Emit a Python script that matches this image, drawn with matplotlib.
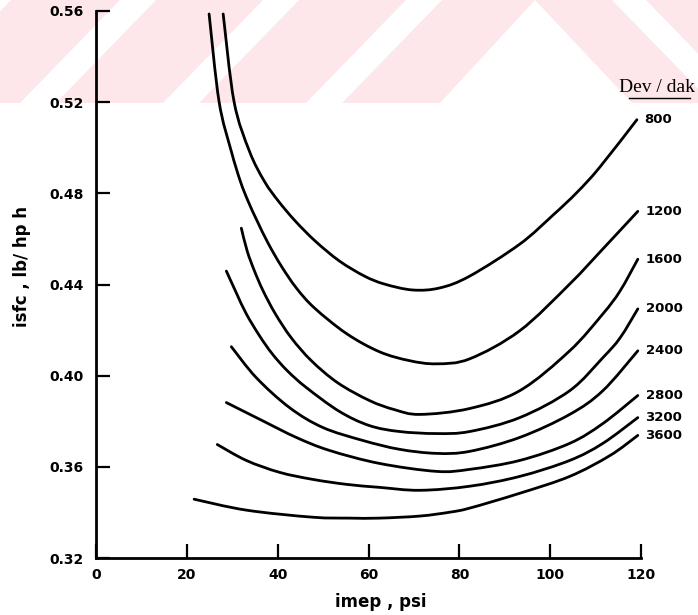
import matplotlib
matplotlib.use('Agg')
import matplotlib.pyplot as plt
from matplotlib.patches import Polygon, Rectangle, PathPatch
from matplotlib.path import Path
from matplotlib.lines import Line2D

# ---------------- data ----------------
speed_labels = ['800', '1200', '1600', '2000', '2400', '2800', '3200', '3600']

imep_800 = [28.0, 30.4, 33.8, 37.1, 40.2, 43.9, 48.3, 53.6, 59.1, 63.5, 69.7, 75.7, 82.3, 93.3, 100.6, 105.9, 110.9, 119.1]
isfc_800 = [0.5587, 0.5202, 0.4984, 0.4852, 0.4765, 0.4678, 0.4590, 0.4503, 0.4437, 0.4402, 0.4376, 0.4385, 0.4437, 0.4577, 0.4704, 0.4804, 0.4914, 0.5123]

imep_1200 = [24.9, 27.1, 29.8, 31.8, 33.5, 35.5, 37.9, 40.8, 44.1, 48.1, 55.2, 62.4, 69.0, 75.0, 82.3, 93.3, 104.3, 111.6, 119.3]
isfc_1200 = [0.5587, 0.5202, 0.4984, 0.4852, 0.4765, 0.4678, 0.4581, 0.4481, 0.4385, 0.4297, 0.4184, 0.4105, 0.4066, 0.4052, 0.4074, 0.4197, 0.4402, 0.4556, 0.4721]

imep_1600 = [32.0, 33.3, 34.9, 36.8, 39.5, 43.0, 47.4, 53.2, 60.2, 65.7, 71.3, 82.3, 93.3, 104.3, 111.6, 115.4, 119.3]
isfc_1600 = [0.4647, 0.4546, 0.4459, 0.4372, 0.4271, 0.4166, 0.4066, 0.3969, 0.3891, 0.3851, 0.3830, 0.3856, 0.3934, 0.4109, 0.4271, 0.4372, 0.4511]

imep_2000 = [28.7, 30.9, 33.1, 36.0, 38.8, 42.1, 46.3, 53.6, 60.2, 66.8, 75.0, 82.3, 93.3, 104.3, 111.6, 115.4, 119.3]
isfc_2000 = [0.4459, 0.4363, 0.4271, 0.4175, 0.4096, 0.4022, 0.3948, 0.3843, 0.3781, 0.3755, 0.3746, 0.3755, 0.3816, 0.3934, 0.4079, 0.4166, 0.4293]

imep_2400 = [29.8, 35.3, 42.6, 49.9, 58.7, 66.8, 75.0, 82.3, 93.3, 104.3, 111.6, 119.3]
isfc_2400 = [0.4127, 0.3991, 0.3860, 0.3773, 0.3716, 0.3677, 0.3659, 0.3668, 0.3729, 0.3830, 0.3934, 0.4109]

imep_2800 = [28.7, 36.6, 44.1, 51.4, 62.4, 75.0, 82.3, 93.3, 104.3, 111.6, 119.3]
isfc_2800 = [0.3882, 0.3803, 0.3729, 0.3672, 0.3615, 0.3580, 0.3589, 0.3628, 0.3703, 0.3790, 0.3913]

imep_3200 = [26.7, 33.1, 40.4, 47.7, 55.2, 62.4, 71.3, 82.3, 93.3, 104.3, 111.6, 119.3]
isfc_3200 = [0.3698, 0.3628, 0.3576, 0.3545, 0.3523, 0.3510, 0.3497, 0.3515, 0.3558, 0.3628, 0.3703, 0.3816]

imep_3600 = [21.6, 33.1, 47.7, 55.8, 62.4, 71.3, 77.9, 82.3, 93.3, 104.3, 113.2, 119.3]
isfc_3600 = [0.3458, 0.3410, 0.3379, 0.3375, 0.3375, 0.3384, 0.3401, 0.3419, 0.3484, 0.3558, 0.3650, 0.3738]

x_ticks = [0, 20, 40, 60, 80, 100, 120]
y_ticks = [0.32, 0.36, 0.40, 0.44, 0.48, 0.52, 0.56]
x_tick_labels = ['0', '20', '40', '60', '80', '100', '120']
y_tick_labels = ['0.32', '0.36', '0.40', '0.44', '0.48', '0.52', '0.56']

curves = [
    (imep_800, isfc_800), (imep_1200, isfc_1200), (imep_1600, isfc_1600),
    (imep_2000, isfc_2000), (imep_2400, isfc_2400), (imep_2800, isfc_2800),
    (imep_3200, isfc_3200), (imep_3600, isfc_3600),
]


def smooth_path(xs, ys):
    """Smooth (Catmull-Rom as cubic Bezier) path through the read points."""
    pts = list(zip(xs, ys))
    n = len(pts)
    verts = [pts[0]]
    codes = [Path.MOVETO]
    for i in range(n - 1):
        p0 = pts[i - 1] if i > 0 else pts[i]
        p1 = pts[i]
        p2 = pts[i + 1]
        p3 = pts[i + 2] if i + 2 < n else pts[i + 1]
        c1 = (p1[0] + (p2[0] - p0[0]) / 6.0, p1[1] + (p2[1] - p0[1]) / 6.0)
        c2 = (p2[0] - (p3[0] - p1[0]) / 6.0, p2[1] - (p3[1] - p1[1]) / 6.0)
        verts += [c1, c2, p2]
        codes += [Path.CURVE4] * 3
    return Path(verts, codes)


# ---------------- figure ----------------
W, H = 698, 615
fig = plt.figure(figsize=(W / 100, H / 100), dpi=100)
fig.patch.set_facecolor('white')

# scanned-page watermark band (decorative background)
bg = fig.add_axes([0, 0, 1, 1], zorder=0)
bg.set_xlim(0, W)
bg.set_ylim(H, 0)
bg.axis('off')
pink = '#fde7eb'
band_h = 103
bg.add_patch(Rectangle((0, 0), W, band_h, color=pink, lw=0))
sw, shift = 36, 100
for b in [-125, 20, 163, 306]:
    bg.add_patch(Polygon([(b, band_h), (b + sw, band_h), (b + sw + shift, 0), (b + shift, 0)],
                         closed=True, color='white', lw=0))
bg.add_patch(Polygon([(535, 0), (440, band_h), (632, band_h)], closed=True, color='white', lw=0))
bg.add_patch(Polygon([(612, 0), (646, 0), (646 + shift, band_h), (612 + shift, band_h)],
                     closed=True, color='white', lw=0))

# main axes
ax = fig.add_axes([96 / W, 57 / H, (641 - 96) / W, (558 - 11) / H], zorder=1)
ax.set_facecolor('none')
ax.set_xlim(0, 120)
ax.set_ylim(0.32, 0.56)

for (xs, ys), lab in zip(curves, speed_labels):
    ax.add_patch(PathPatch(smooth_path(xs, ys), facecolor='none', edgecolor='black',
                           lw=2.0, capstyle='round', joinstyle='round', clip_on=False))
    ax.text(xs[-1] + 1.7, ys[-1], lab, ha='left', va='center', fontsize=9.5,
            fontweight='bold', clip_on=False)

for s in ['top', 'right']:
    ax.spines[s].set_visible(False)
for s in ['left', 'bottom']:
    ax.spines[s].set_linewidth(2.0)

ax.set_xticks(x_ticks)
ax.set_xticklabels(x_tick_labels, fontsize=10, fontweight='bold')
ax.set_yticks(y_ticks)
ax.set_yticklabels(y_tick_labels, fontsize=10, fontweight='bold')
ax.tick_params(axis='both', direction='in', length=10, width=1.6)
ax.tick_params(axis='x', pad=7)
ax.tick_params(axis='y', pad=9)

fig.text(381 / W, 1 - 602 / H, 'imep , psi', ha='center', va='center',
         fontsize=12, fontweight='bold')
fig.text(22 / W, 1 - 267 / H, 'isfc , lb/ hp h', ha='center', va='center',
         rotation=90, fontsize=12, fontweight='bold')

fig.text(657 / W, 1 - 87 / H, 'Dev / dak', ha='center', va='center',
         fontsize=14, family='Liberation Serif')
fig.add_artist(Line2D([629 / W, 690 / W], [1 - 98 / H, 1 - 98 / H],
                      color='black', lw=1.0, transform=fig.transFigure))

fig.savefig('out.png', dpi=100)
